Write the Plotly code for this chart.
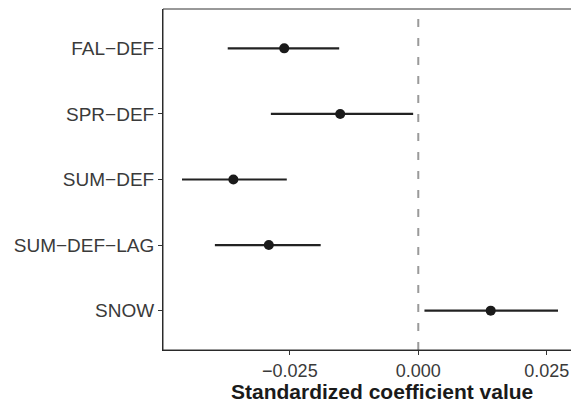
import plotly.graph_objects as go

categories = ["FAL−DEF", "SPR−DEF", "SUM−DEF", "SUM−DEF−LAG", "SNOW"]
estimate = [-0.0261, -0.0152, -0.0360, -0.0291, 0.0141]
lower = [-0.0371, -0.0287, -0.0460, -0.0396, 0.0012]
upper = [-0.0154, -0.0010, -0.0256, -0.0190, 0.0272]
xtick_vals = [-0.025, 0.0, 0.025]
xtick_text = ["−0.025", "0.000", "0.025"]

plus = [u - e for u, e in zip(upper, estimate)]
minus = [e - l for e, l in zip(estimate, lower)]

fig = go.Figure()
fig.add_trace(go.Scatter(
    x=estimate, y=categories, mode="markers",
    marker=dict(size=10, color="#1a1a1a"),
    error_x=dict(type="data", symmetric=False, array=plus, arrayminus=minus,
                 thickness=2.2, width=0, color="#222222"),
    showlegend=False,
))

fig.add_shape(type="line", xref="x", yref="paper", x0=0, x1=0, y0=0, y1=1,
              line=dict(color="#9a9a9a", width=2, dash="8px,11px"), layer="below")
fig.add_shape(type="rect", xref="paper", yref="paper", x0=0, x1=1, y0=0, y1=1,
              line=dict(color="#333333", width=1), fillcolor="rgba(0,0,0,0)", layer="above")

fig.add_annotation(text="<b>Standardized coefficient value</b>", xref="paper", yref="paper",
                   x=0.529, y=-0.123, xanchor="center", yanchor="middle", showarrow=False,
                   font=dict(size=21, color="#1a1a1a", family="Liberation Sans, Arial, sans-serif"))

fig.update_xaxes(range=[-0.0497, 0.0309], tickvals=xtick_vals, ticktext=xtick_text,
                 showgrid=False, zeroline=False, showline=True, linecolor="#222222", linewidth=1,
                 ticks="outside", ticklen=4, tickcolor="#333333",
                 tickfont=dict(size=18, color="#3a3a3a"), automargin=False)
fig.update_yaxes(type="category", range=[4.6, -0.6], categoryorder="array", categoryarray=categories,
                 showgrid=False, zeroline=False, showline=True, linecolor="#222222", linewidth=1,
                 ticks="outside", ticklen=4, tickcolor="#333333",
                 tickfont=dict(size=19, color="#3a3a3a"), automargin=False)

fig.update_layout(width=571, height=397, margin=dict(l=155, r=2, t=1, b=55, pad=0),
                  plot_bgcolor="white", paper_bgcolor="white",
                  font=dict(family="Liberation Sans, Arial, sans-serif"))

fig.write_html("out.html")
